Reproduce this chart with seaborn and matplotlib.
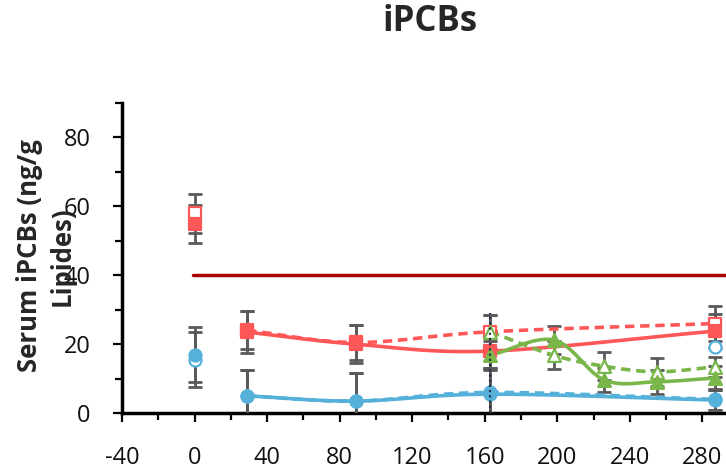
import numpy as np
import pandas as pd
import matplotlib
matplotlib.use("Agg")
import matplotlib.pyplot as plt
import seaborn as sns
from matplotlib.ticker import MultipleLocator

# Days of sampling
days_base = [0]
days_follow = [29, 89, 163, 287]
days_green = [163, 198, 226, 255, 287]

# Baseline (day 0) values and errors
red_fill_base, red_fill_base_err = [55], [5.5]
red_open_base, red_open_base_err = [58], [5.7]
blue_fill_base, blue_fill_base_err = [17], [8]
blue_open_base, blue_open_base_err = [15.5], [8]

# Follow-up series (smoothed lines)
red_fill = [23.5, 20, 18, 23.8]
red_fill_err = [6, 5.5, 5, 5]
red_open = [24, 20.5, 23.6, 26]
red_open_err = [5.5, 5, 5, 5]
blue_fill = [5, 3.5, 5.5, 3.8]
blue_fill_err = [7.5, 8, 7, 3]
blue_open = [5, 3.5, 6, 4]
blue_open_err = [7.5, 8, 7, 3]
green_fill = [16.8, 21.2, 9.6, 9.1, 10.2]
green_fill_err = [4, 4, 3.5, 3.5, 3.5]
green_open = [23.6, 16.8, 13.6, 12, 13.4]
green_open_err = [5, 4, 4, 4, 3]

# Stray open blue point at the last day
extra_blue_x, extra_blue_y = [287], [19.2]

# Reference threshold
threshold = 40
threshold_start = -1

RED = "#FF5757"
BLUE = "#55B0DA"
GREEN = "#79B74B"
DARKRED = "#A80000"
GREY = "#5A5A5A"


def smooth(x, y, n=30):
    # Catmull-Rom style smoothing, similar to Excel "smoothed line"
    x = np.asarray(x, float)
    y = np.asarray(y, float)
    if len(x) < 3:
        return x, y
    px = np.concatenate([[2 * x[0] - x[1]], x, [2 * x[-1] - x[-2]]])
    py = np.concatenate([[2 * y[0] - y[1]], y, [2 * y[-1] - y[-2]]])
    xs, ys = [], []
    for i in range(1, len(px) - 2):
        t = np.linspace(0, 1, n)
        for arr, out in ((px, xs), (py, ys)):
            p0, p1, p2, p3 = arr[i - 1], arr[i], arr[i + 1], arr[i + 2]
            out.append(0.5 * (2 * p1 + (-p0 + p2) * t
                              + (2 * p0 - 5 * p1 + 4 * p2 - p3) * t ** 2
                              + (-p0 + 3 * p1 - 3 * p2 + p3) * t ** 3))
    return np.concatenate(xs), np.concatenate(ys)


sns.set_style("ticks")
plt.rcParams["font.family"] = ["Open Sans", "DejaVu Sans"]
plt.rcParams["axes.unicode_minus"] = False

fig = plt.figure(figsize=(7.26, 4.70), dpi=100)
ax = fig.add_axes([0.168, 0.121, 0.832, 0.66])

# Threshold line
ax.plot([threshold_start, 400], [threshold, threshold], color=DARKRED, lw=2.5, zorder=2)

# Dotted vertical marker at day 163
ax.plot([163, 163], [0, 29], color="#1F2A44", lw=1.5, ls=(0, (1, 1.5)), zorder=7)

# error bars first
for x, y, err in [(days_follow, red_fill, red_fill_err), (days_follow, red_open, red_open_err),
                  (days_follow, blue_fill, blue_fill_err), (days_follow, blue_open, blue_open_err),
                  (days_green, green_fill, green_fill_err), (days_green, green_open, green_open_err),
                  (days_base, red_fill_base, red_fill_base_err), (days_base, red_open_base, red_open_base_err),
                  (days_base, blue_fill_base, blue_fill_base_err), (days_base, blue_open_base, blue_open_base_err)]:
    ax.errorbar(x, y, yerr=err, fmt="none", ecolor=GREY, elinewidth=2,
                capsize=5, capthick=2, zorder=3)

lines = [
    (days_follow, red_open, RED, "--"),
    (days_follow, red_fill, RED, "-"),
    (days_follow, blue_open, BLUE, "--"),
    (days_follow, blue_fill, BLUE, "-"),
    (days_green, green_open, GREEN, "--"),
    (days_green, green_fill, GREEN, "-"),
]
for x, y, col, ls in lines:
    sx, sy = smooth(x, y)
    if ls == "--":
        ax.plot(sx, sy, color=col, lw=2.6, ls=(0, (2.6, 1.6)), zorder=4)
    else:
        ax.plot(sx, sy, color=col, lw=2.6, zorder=4)

# open markers first, filled markers on top
marks = [
    (days_follow, red_open, RED, "s", False),
    (days_base, red_open_base, RED, "s", False),
    (days_follow, blue_open, BLUE, "o", False),
    (days_base, blue_open_base, BLUE, "o", False),
    (days_green, green_open, GREEN, "^", False),
    (extra_blue_x, extra_blue_y, BLUE, "o", False),
    (days_follow, red_fill, RED, "s", True),
    (days_base, red_fill_base, RED, "s", True),
    (days_follow, blue_fill, BLUE, "o", True),
    (days_base, blue_fill_base, BLUE, "o", True),
    (days_green, green_fill, GREEN, "^", True),
]
for x, y, col, mk, filled in marks:
    df = pd.DataFrame({"day": x, "val": y})
    sns.scatterplot(data=df, x="day", y="val", ax=ax, marker=mk,
                    s=85 if mk == "^" else 75,
                    color=col if filled else "white", edgecolor=col,
                    linewidth=1.6, zorder=6 if filled else 5, legend=False)

ax.set_xlim(-40, 293)
ax.set_ylim(0, 90)
ax.xaxis.set_major_locator(MultipleLocator(40))
ax.xaxis.set_minor_locator(MultipleLocator(20))
ax.yaxis.set_major_locator(MultipleLocator(20))
ax.yaxis.set_minor_locator(MultipleLocator(10))
ax.tick_params(axis="both", which="major", length=6.5, width=1.6, labelsize=17, color="black",
               labelcolor="#111111")
ax.tick_params(axis="x", which="major", pad=17)
ax.tick_params(axis="y", which="major", pad=16)
ax.tick_params(axis="both", which="minor", length=5, width=1.6, color="black")
for s in ["left", "bottom"]:
    ax.spines[s].set_linewidth(2.5)
    ax.spines[s].set_color("black")
ax.spines["top"].set_visible(False)
ax.spines["right"].set_visible(False)

ax.set_xlabel("")
ax.set_ylabel("")
fig.text(30 / 726, 1 - 256 / 470, "Serum iPCBs (ng/g", rotation=90, ha="center", va="center",
         fontsize=18.5, fontweight="bold")
fig.text(62 / 726, 1 - 256 / 470, "Lipides)", rotation=90, ha="center", va="center",
         fontsize=18.5, fontweight="bold")

fig.text(430 / 726, 1 - 22 / 470, "iPCBs", ha="center", va="center", fontsize=25, fontweight="bold")

fig.savefig("out.png", dpi=100)
